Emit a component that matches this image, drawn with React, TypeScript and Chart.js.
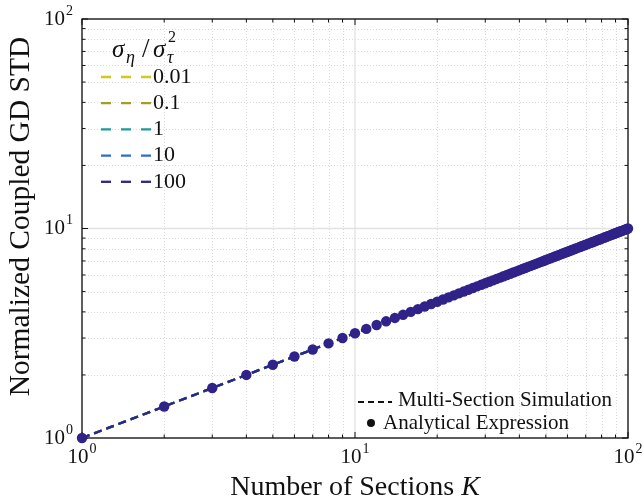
import { useEffect, useRef } from "react";
import { Chart, registerables } from "chart.js";

Chart.register(...registerables);

// ---- data ----
const sectionsK = [
  1, 2, 3, 4, 5, 6, 7, 8, 9, 10,
  11, 12, 13, 14, 15, 16, 17, 18, 19, 20,
  21, 22, 23, 24, 25, 26, 27, 28, 29, 30,
  31, 32, 33, 34, 35, 36, 37, 38, 39, 40,
  41, 42, 43, 44, 45, 46, 47, 48, 49, 50,
  51, 52, 53, 54, 55, 56, 57, 58, 59, 60,
  61, 62, 63, 64, 65, 66, 67, 68, 69, 70,
  71, 72, 73, 74, 75, 76, 77, 78, 79, 80,
  81, 82, 83, 84, 85, 86, 87, 88, 89, 90,
  91, 92, 93, 94, 95, 96, 97, 98, 99, 100,
];

const analyticalStd = [
  1.0, 1.414, 1.732, 2.0, 2.236, 2.449, 2.646, 2.828, 3.0, 3.162,
  3.317, 3.464, 3.606, 3.742, 3.873, 4.0, 4.123, 4.243, 4.359, 4.472,
  4.583, 4.69, 4.796, 4.899, 5.0, 5.099, 5.196, 5.292, 5.385, 5.477,
  5.568, 5.657, 5.745, 5.831, 5.916, 6.0, 6.083, 6.164, 6.245, 6.325,
  6.403, 6.481, 6.557, 6.633, 6.708, 6.782, 6.856, 6.928, 7.0, 7.071,
  7.141, 7.211, 7.28, 7.348, 7.416, 7.483, 7.55, 7.616, 7.681, 7.746,
  7.81, 7.874, 7.937, 8.0, 8.062, 8.124, 8.185, 8.246, 8.307, 8.367,
  8.426, 8.485, 8.544, 8.602, 8.66, 8.718, 8.775, 8.832, 8.888, 8.944,
  9.0, 9.055, 9.11, 9.165, 9.22, 9.274, 9.327, 9.381, 9.434, 9.487,
  9.539, 9.592, 9.644, 9.695, 9.747, 9.798, 9.849, 9.899, 9.95, 10.0,
];

// simulation curves coincide with the analytical points for every ratio
const simulatedStd = [
  1.0, 1.414, 1.732, 2.0, 2.236, 2.449, 2.646, 2.828, 3.0, 3.162,
  3.317, 3.464, 3.606, 3.742, 3.873, 4.0, 4.123, 4.243, 4.359, 4.472,
  4.583, 4.69, 4.796, 4.899, 5.0, 5.099, 5.196, 5.292, 5.385, 5.477,
  5.568, 5.657, 5.745, 5.831, 5.916, 6.0, 6.083, 6.164, 6.245, 6.325,
  6.403, 6.481, 6.557, 6.633, 6.708, 6.782, 6.856, 6.928, 7.0, 7.071,
  7.141, 7.211, 7.28, 7.348, 7.416, 7.483, 7.55, 7.616, 7.681, 7.746,
  7.81, 7.874, 7.937, 8.0, 8.062, 8.124, 8.185, 8.246, 8.307, 8.367,
  8.426, 8.485, 8.544, 8.602, 8.66, 8.718, 8.775, 8.832, 8.888, 8.944,
  9.0, 9.055, 9.11, 9.165, 9.22, 9.274, 9.327, 9.381, 9.434, 9.487,
  9.539, 9.592, 9.644, 9.695, 9.747, 9.798, 9.849, 9.899, 9.95, 10.0,
];

const ratioLabels = ["0.01", "0.1", "1", "10", "100"];
const ratioColors = ["#d2c81c", "#a89a22", "#1b9c98", "#2f6bd2", "#2e2588"];
const decadeTicks = [1, 10, 100];
const decadeExponents = ["0", "1", "2"];

const SERIF = '"Liberation Serif", "Times New Roman", serif';
const INK = "#111111";

function drawPow(
  ctx: CanvasRenderingContext2D,
  exp: string,
  x: number,
  y: number,
  align: "center" | "right"
) {
  ctx.font = `21px ${SERIF}`;
  const wb = ctx.measureText("10").width;
  ctx.font = `14px ${SERIF}`;
  const we = ctx.measureText(exp).width;
  const total = wb + we + 1;
  const x0 = align === "center" ? x - total / 2 : x - total;
  ctx.textAlign = "left";
  ctx.textBaseline = "middle";
  ctx.fillStyle = INK;
  ctx.font = `21px ${SERIF}`;
  ctx.fillText("10", x0, y);
  ctx.font = `14px ${SERIF}`;
  ctx.fillText(exp, x0 + wb + 1, y - 8);
}

const framePlugin = {
  id: "framePlugin",
  beforeDatasetsDraw(chart: any) {
    const { ctx, chartArea: a, scales } = chart;
    const xs = scales.x;
    const ys = scales.y;
    const minors: number[] = [];
    for (const d of [1, 10]) for (let m = 2; m <= 9; m++) minors.push(d * m);
    ctx.save();
    // minor grid (dotted)
    ctx.strokeStyle = "#cfcfcf";
    ctx.lineWidth = 0.8;
    ctx.setLineDash([1, 2]);
    for (const v of minors) {
      const px = Math.round(xs.getPixelForValue(v)) + 0.5;
      ctx.beginPath();
      ctx.moveTo(px, a.top);
      ctx.lineTo(px, a.bottom);
      ctx.stroke();
      const py = Math.round(ys.getPixelForValue(v)) + 0.5;
      ctx.beginPath();
      ctx.moveTo(a.left, py);
      ctx.lineTo(a.right, py);
      ctx.stroke();
    }
    // major grid
    ctx.setLineDash([]);
    ctx.strokeStyle = "#e2e2e2";
    ctx.lineWidth = 1.3;
    for (const v of decadeTicks) {
      const px = xs.getPixelForValue(v);
      ctx.beginPath();
      ctx.moveTo(px, a.top);
      ctx.lineTo(px, a.bottom);
      ctx.stroke();
      const py = ys.getPixelForValue(v);
      ctx.beginPath();
      ctx.moveTo(a.left, py);
      ctx.lineTo(a.right, py);
      ctx.stroke();
    }
    // frame
    ctx.strokeStyle = INK;
    ctx.lineWidth = 1.3;
    ctx.strokeRect(a.left, a.top, a.right - a.left, a.bottom - a.top);
    // inward ticks
    ctx.lineWidth = 1;
    const tick = (v: number, len: number) => {
      const px = xs.getPixelForValue(v);
      ctx.beginPath();
      ctx.moveTo(px, a.bottom);
      ctx.lineTo(px, a.bottom - len);
      ctx.moveTo(px, a.top);
      ctx.lineTo(px, a.top + len);
      ctx.stroke();
      const py = ys.getPixelForValue(v);
      ctx.beginPath();
      ctx.moveTo(a.left, py);
      ctx.lineTo(a.left + len, py);
      ctx.moveTo(a.right, py);
      ctx.lineTo(a.right - len, py);
      ctx.stroke();
    };
    for (const v of minors) tick(v, 3.5);
    for (const v of decadeTicks) tick(v, 6);
    ctx.restore();
  },
  afterDraw(chart: any) {
    const { ctx, chartArea: a, scales } = chart;
    const xs = scales.x;
    const ys = scales.y;
    ctx.save();
    // tick labels
    decadeTicks.forEach((v, i) => {
      drawPow(ctx, decadeExponents[i], xs.getPixelForValue(v), 457, "center");
      drawPow(ctx, decadeExponents[i], a.left - 9, ys.getPixelForValue(v), "right");
    });
    // x title
    ctx.fillStyle = INK;
    ctx.textBaseline = "middle";
    ctx.font = `28px ${SERIF}`;
    const t1 = "Number of Sections ";
    const w1 = ctx.measureText(t1).width;
    ctx.font = `italic 28px ${SERIF}`;
    const w2 = ctx.measureText("K").width;
    const cx = (a.left + a.right) / 2;
    const x0 = cx - (w1 + w2) / 2;
    ctx.textAlign = "left";
    ctx.font = `28px ${SERIF}`;
    ctx.fillText(t1, x0, 488);
    ctx.font = `italic 28px ${SERIF}`;
    ctx.fillText("K", x0 + w1, 488);
    // y title
    ctx.save();
    ctx.translate(21, (a.top + a.bottom) / 2 - 12);
    ctx.rotate(-Math.PI / 2);
    ctx.textAlign = "center";
    ctx.font = `29.5px ${SERIF}`;
    ctx.fillText("Normalized Coupled GD STD", 0, 0);
    ctx.restore();

    // ratio legend title  σ_η / σ_τ^2
    ctx.textAlign = "left";
    ctx.font = `italic 25px ${SERIF}`;
    ctx.fillText("σ", 112, 50);
    ctx.font = `italic 18px ${SERIF}`;
    ctx.fillText("η", 126, 58);
    ctx.font = `27px ${SERIF}`;
    ctx.fillText("/", 142, 50);
    ctx.font = `italic 25px ${SERIF}`;
    ctx.fillText("σ", 153, 50);
    ctx.font = `italic 18px ${SERIF}`;
    ctx.fillText("τ", 167, 58);
    ctx.font = `16px ${SERIF}`;
    ctx.fillText("2", 168, 38);

    // ratio legend entries
    ratioLabels.forEach((lab, i) => {
      const ry = 77 + i * 26.2;
      ctx.strokeStyle = ratioColors[i];
      ctx.lineWidth = 2.3;
      ctx.setLineDash([10, 10]);
      ctx.beginPath();
      ctx.moveTo(101, ry);
      ctx.lineTo(152, ry);
      ctx.stroke();
      ctx.setLineDash([]);
      ctx.fillStyle = INK;
      ctx.font = `22px ${SERIF}`;
      ctx.fillText(lab, 153, ry);
    });

    // method legend
    ctx.strokeStyle = INK;
    ctx.lineWidth = 2;
    ctx.setLineDash([6, 4]);
    ctx.beginPath();
    ctx.moveTo(358, 402);
    ctx.lineTo(392, 402);
    ctx.stroke();
    ctx.setLineDash([]);
    ctx.font = `21px ${SERIF}`;
    ctx.fillStyle = INK;
    ctx.fillText("Multi-Section Simulation", 398, 400);
    ctx.beginPath();
    ctx.arc(371, 423, 4, 0, Math.PI * 2);
    ctx.fill();
    ctx.fillText("Analytical Expression", 383, 423);
    ctx.restore();
  },
};

export default function App() {
  const ref = useRef<HTMLCanvasElement | null>(null);
  useEffect(() => {
    document.body.style.margin = "0";
    if (!ref.current) return;
    const pts = (ys: number[]) => sectionsK.map((k, i) => ({ x: k, y: ys[i] }));
    const lineSets = ratioLabels
      .map((lab, i) => ({
        label: `Simulation ${lab}`,
        data: pts(simulatedStd),
        borderColor: ratioColors[i],
        backgroundColor: ratioColors[i],
        borderWidth: 2.3,
        borderDash: [8, 5],
        pointRadius: 0,
        showLine: true,
        clip: false as any,
      }))
      .reverse();
    const chart = new Chart(ref.current, {
      type: "line",
      data: {
        datasets: [
          {
            label: "Analytical Expression",
            data: pts(analyticalStd),
            showLine: false,
            pointRadius: 5.2,
            pointHoverRadius: 5.2,
            pointBorderWidth: 0,
            pointBackgroundColor: "#2f2389",
            borderColor: "#2f2389",
            clip: false as any,
          },
          ...lineSets,
        ],
      },
      options: {
        animation: false,
        responsive: false,
        layout: { padding: { left: 82, top: 19, right: 16, bottom: 66 } },
        plugins: { legend: { display: false }, tooltip: { enabled: false } },
        scales: {
          x: { type: "logarithmic", min: 1, max: 100, display: false },
          y: { type: "logarithmic", min: 1, max: 100, display: false },
        },
      },
      plugins: [framePlugin],
    });
    return () => chart.destroy();
  }, []);
  return (
    <div style={{ width: 644, height: 504 }}>
      <canvas ref={ref} width={644} height={504} style={{ display: "block" }} />
    </div>
  );
}
